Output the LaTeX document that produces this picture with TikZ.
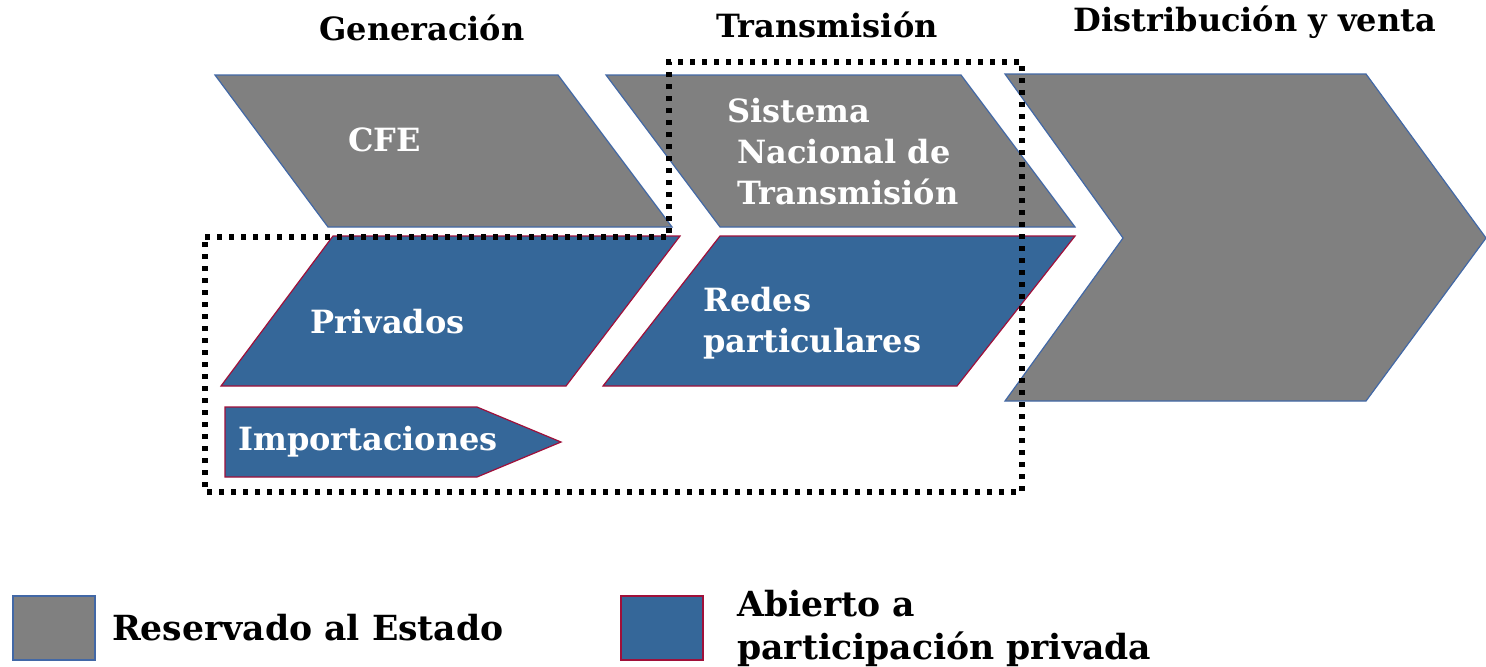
\documentclass[tikz,border=0pt]{standalone}
\usepackage{fontspec}
\setmainfont{DejaVu Serif}
\usepackage{xcolor}
\usetikzlibrary{positioning,calc}
\definecolor{estado}{RGB}{128,128,128}
\definecolor{privado}{RGB}{53,103,153}
\definecolor{edgeblue}{RGB}{66,104,166}
\definecolor{edgered}{RGB}{160,16,58}

\begin{document}
\begin{tikzpicture}[x=0.5pt, y=-0.5pt,
        grayshape/.style={fill=estado, draw=edgeblue, line width=0.6pt},
        blueshape/.style={fill=privado, draw=edgered, line width=0.6pt},
        boxtext/.style={text=white, font=\bfseries\fontsize{16}{20.5}\selectfont, inner sep=0pt, align=left},
        headtext/.style={font=\bfseries\fontsize{16}{20.5}\selectfont, inner sep=0pt, align=left},
        legtext/.style={font=\bfseries\fontsize{17.3}{21.5}\selectfont, inner sep=0pt, align=left},
        dotline/.style={line width=2.6pt, dash pattern=on 2.4pt off 3.6pt}
    ]
        \useasboundingbox (0,0) rectangle (1486,666);

        % Headings
        \node (gen) [headtext] at (422,28) {Generación};
        \node (trans) [headtext] at (827,25) {Transmisión};
        \node (dist) [headtext] at (1255,22) {Distribución y venta};

        % Reserved to the state
        \filldraw [grayshape] (215,75) -- (558,75) -- (672,227) -- (328,227) -- cycle;
        \filldraw [grayshape] (606,75) -- (961,75) -- (1075,227) -- (720,227) -- cycle;
        \filldraw [grayshape] (1005,74) -- (1366,74) -- (1486,238) -- (1366,401) -- (1005,401) -- (1123,238) -- cycle;

        % Open to private participation
        \filldraw [blueshape] (333,236) -- (680,236) -- (566,386) -- (221,386) -- cycle;
        \filldraw [blueshape] (720,236) -- (1075,236) -- (957,386) -- (603,386) -- cycle;
        \filldraw [blueshape] (225,407) -- (477,407) -- (561,442) -- (477,477) -- (225,477) -- cycle;

        % Box texts
        \node (cfe) [boxtext, anchor=west] at (348,140) {CFE};
        \node (sistema) [boxtext, anchor=west] at (737,152) {\hspace*{-5pt}Sistema\\Nacional de\\Transmisión};
        \node (privados) [boxtext, anchor=west] at (310,322) {Privados};
        \node (redes) [boxtext, anchor=west] at (703,323) {Redes\\particulares};
        \node (importa) [boxtext, anchor=west] at (238,442) {Importaciones};

        % Dotted frame
        \draw [dotline] (205,237) -- (669,237) -- (669,62) -- (1022,62) -- (1022,492) -- (205,492) -- cycle;

        % Legend
        \node (legA) [fill=estado, draw=edgeblue, line width=0.8pt, minimum width=41pt, minimum height=32pt] at (54,628) {};
        \node (legAtext) [legtext, right=8pt of legA] {Reservado al Estado};
        \node (legB) [fill=privado, draw=edgered, line width=0.8pt, minimum width=41pt, minimum height=32pt] at (662,628) {};
        \node (legBtext) [legtext, right=16.5pt of legB] {Abierto a\\participación privada};
    \end{tikzpicture}
\end{document}
